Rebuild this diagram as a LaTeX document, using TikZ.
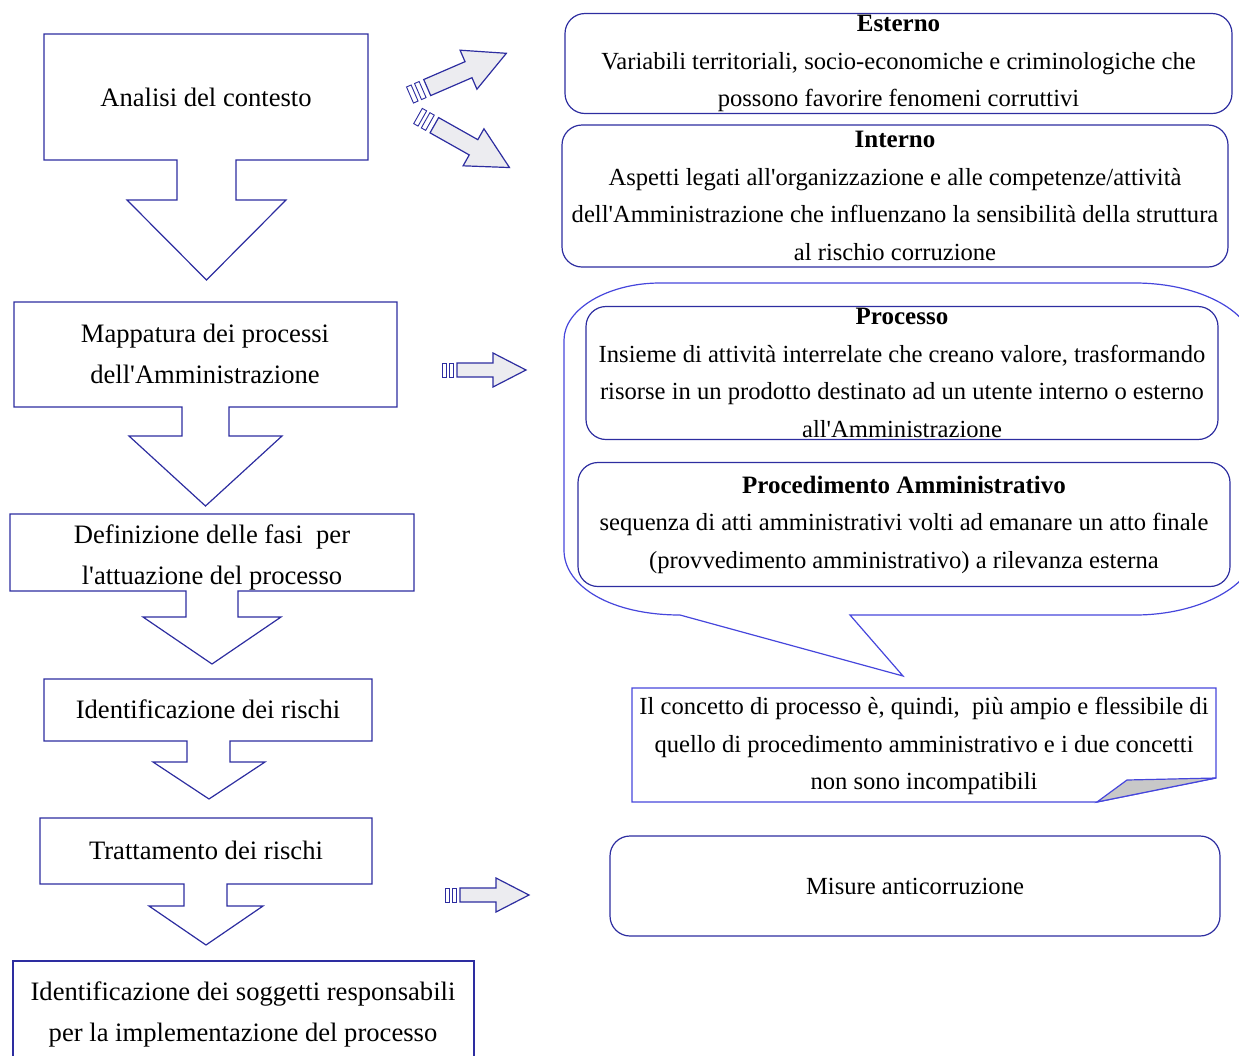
\documentclass[tikz,border=0pt]{standalone}
\usepackage{fontspec}
\setmainfont{Liberation Serif}[Ligatures=TeXOff]
\usetikzlibrary{positioning}
\definecolor{boxblue}{RGB}{45,45,160}
\definecolor{bubbleblue}{RGB}{70,70,220}
\definecolor{arrowgrey}{RGB}{236,236,240}
\definecolor{foldgrey}{RGB}{200,200,200}
\newcommand{\boxhead}[1]{{\fontsize{12.5}{18.75}\selectfont\bfseries #1}}

\begin{document}
\begin{tikzpicture}[x=0.5pt,y=-0.5pt,
    stepline/.style={draw=boxblue,line width=0.6pt},
    steptext/.style={align=center,font=\fontsize{13.3}{20.5}\selectfont},
    infobox/.style={draw=boxblue,line width=0.6pt,rounded corners=10pt,inner sep=0pt,
      align=center,font=\fontsize{12.3}{18.75}\selectfont},
    pics/stripearrow/.style={code={
      \draw[stepline,line width=0.45pt,fill=white] (0,-7) rectangle (4,7);
      \draw[stepline,line width=0.45pt,fill=white] (7,-7) rectangle (11,7);
      \draw[stepline,fill=arrowgrey] (15,-7) -- (51,-7) -- (51,-17) -- (84,0)
        -- (51,17) -- (51,7) -- (15,7) -- cycle;
    }}]
  \useasboundingbox (0,0) rectangle (1239,1056);

  % left column: boxes with a block arrow underneath
  \foreach \l/\t/\r/\b/\sl/\sr/\sb/\hl/\hr/\tip in {
      44/34/368/160/177/236/200/127/286/280,
      14/302/397/407/182/229/436/129/282/506,
      10/514/414/591/186/238/617/143/281/664,
      44/679/372/741/187/230/762/153/265/799,
      40/818/372/884/184/227/906/149/263/945} {
    \draw[stepline] (\l,\t) -- (\r,\t) -- (\r,\b) -- (\sr,\b) -- (\sr,\sb) -- (\hr,\sb)
      -- ({(\hl+\hr)/2},\tip) -- (\hl,\sb) -- (\sl,\sb) -- (\sl,\b) -- (\l,\b) -- cycle;
  }
  \draw[stepline] (13,1070) -- (13,961) -- (474,961) -- (474,1070);

  \node[steptext] (analisi) at (206,97) {Analisi del contesto};
  \node[steptext] (mappatura) at (205,354) {Mappatura dei processi\\dell'Amministrazione};
  \node[steptext] (fasi) at (212,557) {Definizione delle fasi~~per\\l'attuazione del processo};
  \node[steptext] (rischi) at (208,709) {Identificazione dei rischi};
  \node[steptext] (trattamento) at (206,850) {Trattamento dei rischi};
  \node[steptext] (soggetti) at (243,1014) {Identificazione dei soggetti responsabili\\per la implementazione del processo};

  % striped arrows
  \pic[rotate=23.4,scale=1.25] at (410,95) {stripearrow};
  \pic[rotate=-29.4,scale=1.25] at (418,116) {stripearrow};
  \pic at (442,370) {stripearrow};
  \pic at (445,895) {stripearrow};

  % right column
  \node[infobox,minimum width=333.5pt,minimum height=50pt] (esterno) at (898.5,63.5)
    {\boxhead{Esterno}\\Variabili territoriali, socio-economiche e criminologiche che\\possono favorire fenomeni corruttivi};
  \node[infobox,minimum width=333pt,minimum height=71pt] (interno) at (895,196)
    {\boxhead{Interno}\\Aspetti legati all'organizzazione e alle competenze/attività\\dell'Amministrazione che influenzano la sensibilità della struttura\\al rischio corruzione};

  % speech bubble
  \draw[draw=bubbleblue,line width=0.6pt] (564,340) -- (564,550)
    .. controls (564,587) and (612,615) .. (680,615) -- (903,676) -- (850,615) -- (1135,615)
    .. controls (1200,615) and (1255,585) .. (1255,550) -- (1255,350)
    .. controls (1255,312) and (1200,283) .. (1135,283) -- (660,283)
    .. controls (608,283) and (564,309) .. (564,340) -- cycle;
  \node[infobox,minimum width=316pt,minimum height=66.5pt] (processo) at (902,373)
    {\boxhead{Processo}\\Insieme di attività interrelate che creano valore, trasformando\\risorse in un prodotto destinato ad un utente interno o esterno\\all'Amministrazione};
  \node[infobox,minimum width=326pt,minimum height=62pt] (procedimento) at (904,524.5)
    {\boxhead{Procedimento Amministrativo}\\sequenza di atti amministrativi volti ad emanare un atto finale\\(provvedimento amministrativo) a rilevanza esterna};

  % note with folded corner
  \draw[draw=bubbleblue,line width=0.6pt] (632,688) -- (1216,688) -- (1216,778) -- (1097,802) -- (632,802) -- cycle;
  \draw[draw=bubbleblue,line width=0.6pt,fill=foldgrey] (1097,802) -- (1127,780) -- (1216,778) -- cycle;
  \node[align=center,font=\fontsize{12.3}{18.75}\selectfont] (concetto) at (924,746)
    {Il concetto di processo è, quindi,~~più ampio e flessibile di\\quello di procedimento amministrativo e i due concetti\\non sono incompatibili};

  \node[infobox,minimum width=305pt,minimum height=50pt] (misure) at (915,886) {Misure anticorruzione};
\end{tikzpicture}
\end{document}
